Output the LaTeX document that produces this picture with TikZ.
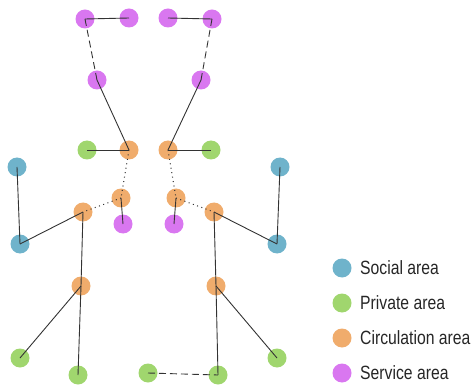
\documentclass[tikz,border=0pt]{standalone}
\usepackage{fontspec}
\setmainfont[FakeStretch=0.82]{Liberation Sans}
\definecolor{socialc}{HTML}{6FB3CB}
\definecolor{privc}{HTML}{A0D66E}
\definecolor{circc}{HTML}{F0AC6C}
\definecolor{servc}{HTML}{D977F0}
\definecolor{edgec}{HTML}{333333}
\begin{document}
\begin{tikzpicture}[x=1pt,y=-1pt,
  room/.style={circle,inner sep=0pt,minimum size=19pt,draw=none},
  social/.style={room,fill=socialc},
  priv/.style={room,fill=privc},
  circ/.style={room,fill=circc},
  serv/.style={room,fill=servc},
  link/.style={draw=edgec,line width=0.9pt},
  dashlink/.style={link,dash pattern=on 7pt off 4pt},
  dotlink/.style={draw=edgec,line width=1pt,dash pattern=on 1pt off 3.5pt},
  legtext/.style={anchor=west,inner sep=0pt,font=\fontsize{19.2}{21}\selectfont,text=black!85}]
\useasboundingbox (0,0) rectangle (473,387);
% service
\node[serv] (s1) at (85,19) {};
\node[serv] (s2) at (129,18) {};
\node[serv] (s3) at (168,18) {};
\node[serv] (s4) at (212,19) {};
\node[serv] (s5) at (97,80) {};
\node[serv] (s6) at (201,80) {};
\node[serv] (v1) at (123,224) {};
\node[serv] (v2) at (174,224) {};
% private
\node[priv] (p1) at (87,150) {};
\node[priv] (p2) at (211,150) {};
\node[priv] (p3) at (20,358) {};
\node[priv] (p4) at (78,375) {};
\node[priv] (p5) at (148,373) {};
\node[priv] (p6) at (218,375) {};
\node[priv] (p7) at (277,358) {};
% circulation
\node[circ] (c1) at (129,150) {};
\node[circ] (c2) at (168,150) {};
\node[circ] (c3) at (121,198) {};
\node[circ] (c4) at (176,198) {};
\node[circ] (c5) at (83,212) {};
\node[circ] (c6) at (214,212) {};
\node[circ] (c7) at (81,286) {};
\node[circ] (c8) at (216,286) {};
% social
\node[social] (o1) at (17,167) {};
\node[social] (o2) at (20,244) {};
\node[social] (o3) at (280,167) {};
\node[social] (o4) at (277,244) {};
% edges
\draw[link] (s1.center) -- (s2.center);
\draw[link] (s3.center) -- (s4.center);
\draw[dashlink] (s1.center) -- (s5.center);
\draw[dashlink] (s4.center) -- (s6.center);
\draw[link] (s5.center) -- (c1.center);
\draw[link] (s6.center) -- (c2.center);
\draw[link] (p1.center) -- (c1.center);
\draw[link] (c2.center) -- (p2.center);
\draw[dotlink] (c1.center) -- (c3.center);
\draw[dotlink] (c2.center) -- (c4.center);
\draw[dotlink] (c3.center) -- (c5.center);
\draw[dotlink] (c4.center) -- (c6.center);
\draw[link] (c3.center) -- (v1.center);
\draw[link] (c4.center) -- (v2.center);
\draw[link] (c5.center) -- (o2.center);
\draw[link] (o1.center) -- (o2.center);
\draw[link] (c6.center) -- (o4.center);
\draw[link] (o3.center) -- (o4.center);
\draw[link] (c5.center) -- (c7.center);
\draw[link] (c6.center) -- (c8.center);
\draw[link] (c7.center) -- (p3.center);
\draw[link] (c7.center) -- (p4.center);
\draw[link] (c8.center) -- (p6.center);
\draw[link] (c8.center) -- (p7.center);
\draw[dashlink] (p5.center) -- (p6.center);
% legend
\node[social] (l1) at (342,268) {};
\node[priv] (l2) at (342,303) {};
\node[circ] (l3) at (342,338) {};
\node[serv] (l4) at (342,373) {};
\node[legtext] (t1) at (360,268) {Social area};
\node[legtext] (t2) at (360,303) {Private area};
\node[legtext] (t3) at (360,338) {Circulation area};
\node[legtext] (t4) at (360,373) {Service area};
\end{tikzpicture}
\end{document}
